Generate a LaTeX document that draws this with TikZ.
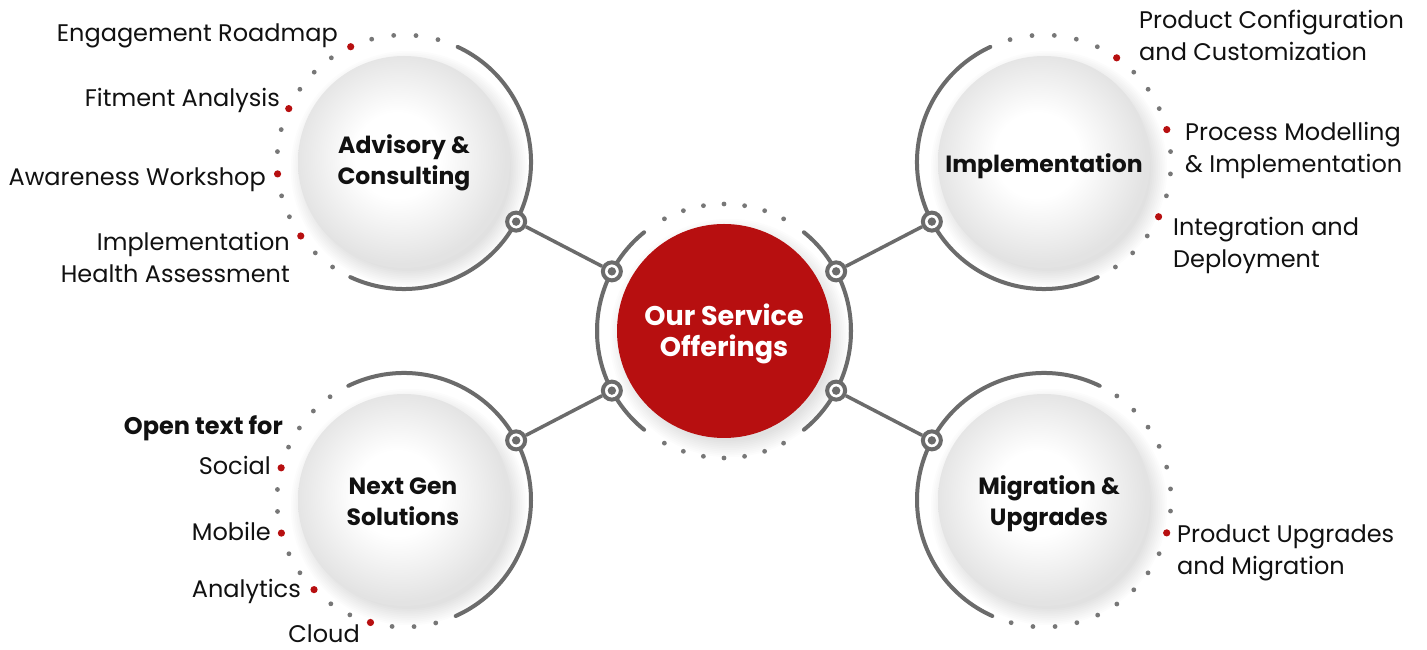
\documentclass[tikz,border=0pt]{standalone}
\usepackage{fontspec}
\setmainfont{Poppins}
\usetikzlibrary{calc}
\definecolor{ringgray}{HTML}{6B6B6B}
\definecolor{dotgray}{HTML}{777777}
\definecolor{offred}{HTML}{B70F10}
\definecolor{txt}{HTML}{111111}
\pgfdeclareradialshading{satball}{\pgfpoint{-2bp}{2bp}}{color(0bp)=(white); color(10bp)=(white); color(25bp)=(black!11); color(50bp)=(black!11)}
\tikzset{
  arcline/.style={draw=ringgray, line width=4pt, line cap=round},
  link/.style={draw=ringgray, line width=3.5pt},
  ring/.style={circle, draw=ringgray, line width=4pt, fill=white, minimum size=18pt, inner sep=0pt,
    path picture={\fill[ringgray] (path picture bounding box.center) circle (4.2pt);}},
  graydot/.style={fill=dotgray},
  reddot/.style={fill=offred},
  sat/.style={circle, minimum size=212pt, inner sep=0pt, shading=satball},
  hub/.style={circle, minimum size=214pt, fill=offred, inner sep=0pt},
  lbl/.style={font=\fontsize{24}{32}\selectfont, text=txt, inner sep=0pt},
  title/.style={font=\fontsize{23.5}{31}\selectfont\bfseries, text=txt, align=center, inner sep=0pt, anchor=base},
}
\newcommand\ringdots[4]{%
  \foreach \k in {0,...,#4} {\fill[graydot] ($(#1)+({#2+#3*\k}:127)$) circle (2.4);}}
\newcommand\reddots[4]{%
  \foreach \k in {#4} {\fill[reddot] ($(#1)+({#2+#3*\k}:127)$) circle (3.6);}}
\newcommand\softshadow[2]{%
  \foreach \i in {0,...,9} {\fill[black, opacity=0.011] ($(#1)+(5,-7)$) circle ({#2-4+1.8*\i});}}
\begin{document}
\begin{tikzpicture}[x=1pt,y=1pt]
\useasboundingbox (0,0) rectangle (1427,650);
\fill[white] (0,0) rectangle (1427,650);
\coordinate (C) at (724,319);
\coordinate (A) at (404,488);
\coordinate (I) at (1044,488);
\coordinate (N) at (404,150);
\coordinate (M) at (1044,150);

% shadows and discs
\softshadow{C}{107}
\softshadow{A}{106}
\softshadow{I}{106}
\softshadow{N}{106}
\softshadow{M}{106}
\node[sat] (adv) at (A) {};
\node[sat] (imp) at (I) {};
\node[sat] (nxt) at (N) {};
\node[sat] (mig) at (M) {};
\node[hub] (hub) at (C) {};

% central ring
\draw[arcline] ($(C)+(129:127)$) arc[start angle=129, end angle=183, radius=127];
\draw[arcline] ($(C)+(177:127)$) arc[start angle=177, end angle=231, radius=127];
\draw[arcline] ($(C)+(51:127)$) arc[start angle=51, end angle=-3, radius=127];
\draw[arcline] ($(C)+(3:127)$) arc[start angle=3, end angle=-51, radius=127];
\ringdots{C}{62}{9.33}{6}
\ringdots{C}{-118}{9.33}{6}

% satellite arcs
\draw[arcline] ($(A)+(65:127)$) arc[start angle=65, end angle=-115, radius=127];
\draw[arcline] ($(I)+(115:127)$) arc[start angle=115, end angle=295, radius=127];
\draw[arcline] ($(N)+(116:127)$) arc[start angle=116, end angle=-66, radius=127];
\draw[arcline] ($(M)+(64:127)$) arc[start angle=64, end angle=246, radius=127];

% satellite dots
\ringdots{A}{74.5}{10.08}{16}
\reddots{A}{74.5}{10.08}{4,8,11,14}
\ringdots{I}{105.5}{-10.08}{16}
\reddots{I}{105.5}{-10.08}{5,9,13}
\ringdots{N}{125.6}{9.93}{16}
\reddots{N}{125.6}{9.93}{4,7,10,13}
\ringdots{M}{55}{-10}{16}
\reddots{M}{55}{-10}{7}

% connector rings
\node[ring] (ca) at ($(C)+(152:127)$) {};
\node[ring] (cn) at ($(C)+(208:127)$) {};
\node[ring] (ci) at ($(C)+(28:127)$) {};
\node[ring] (cm) at ($(C)+(-28:127)$) {};
\node[ring] (sa) at ($(A)+(-28:127)$) {};
\node[ring] (sn) at ($(N)+(28:127)$) {};
\node[ring] (si) at ($(I)+(208:127)$) {};
\node[ring] (sm) at ($(M)+(152:127)$) {};
\draw[link] (ca) -- (sa);
\draw[link] (cn) -- (sn);
\draw[link] (ci) -- (si);
\draw[link] (cm) -- (sm);

% titles (base = last line)
\node[title, text=white, font=\fontsize{27}{31}\selectfont\bfseries] (hubtxt) at (724,293) {Our Service\\Offerings};
\node[title] (advtxt) at (404,465) {Advisory \&\\Consulting};
\node[title] (imptxt) at (1044,477) {Implementation};
\node[title] (nxttxt) at (403,124) {Next Gen\\Solutions};
\node[title] (migtxt) at (1049,124) {Migration \&\\Upgrades};

% left labels
\node[lbl, anchor=base east] (l1) at (338,608) {Engagement Roadmap};
\node[lbl, anchor=base east] (l2) at (280,543) {Fitment Analysis};
\node[lbl, anchor=base east] (l3) at (266,464) {Awareness Workshop};
\node[lbl, anchor=base east, align=right] (l4) at (290,367) {Implementation\\Health Assessment};
\node[lbl, anchor=base east, font=\fontsize{24}{32}\selectfont\bfseries] (l5) at (283,215) {Open text for};
\node[lbl, anchor=base east] (l6) at (271,175) {Social};
\node[lbl, anchor=base east] (l7) at (271,109) {Mobile};
\node[lbl, anchor=base east] (l8) at (301,52) {Analytics};
\node[lbl, anchor=base east] (l9) at (360,7) {Cloud};

% right labels (base = last line)
\node[lbl, anchor=base west, align=left] (r1) at (1139,589) {Product Configuration\\and Customization};
\node[lbl, anchor=base west, align=left] (r2) at (1185,477) {Process Modelling\\\& Implementation};
\node[lbl, anchor=base west, align=left] (r3) at (1173,382) {Integration and\\Deployment};
\node[lbl, anchor=base west, align=left] (r4) at (1177,75) {Product Upgrades\\and Migration};
\end{tikzpicture}
\end{document}
